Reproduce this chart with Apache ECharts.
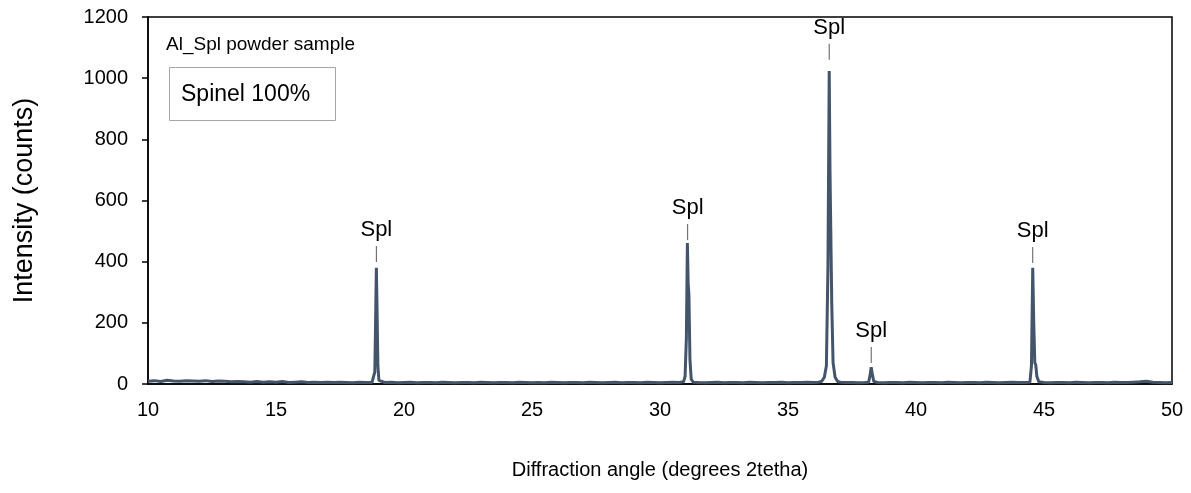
<!DOCTYPE html>
<html>
<head>
<meta charset="utf-8">
<script src="https://cdn.jsdelivr.net/npm/echarts@6/dist/echarts.min.js"></script>
<style>html,body{margin:0;padding:0;background:#fff;}#c{width:1191px;height:493px;}</style>
</head>
<body>
<div id="c"></div>
<script>
// XRD scan: [2theta, counts]
const scan = [
[10.00,9],[10.25,11],[10.50,8],[10.75,12],[11.00,10],[11.25,9],[11.50,11],[11.75,10],[12.00,9],[12.25,11],[12.50,8],[12.75,10],
[13.00,9],[13.25,7],[13.50,8],[13.75,7],[14.00,6],[14.25,8],[14.50,6],[14.75,7],[15.00,6],[15.25,8],[15.50,5],[15.75,6],
[16.00,7],[16.25,5],[16.50,6],[16.75,5],[17.00,6],[17.25,5],[17.50,6],[17.75,5],[18.00,4],[18.25,6],[18.50,5],[18.75,5],
[18.82,8],[18.86,40],[18.89,200],[18.92,380],[18.95,230],[18.98,60],[19.02,12],[19.08,6],
[19.25,5],[19.50,6],[19.75,4],[20.00,5],[20.25,6],[20.50,4],[20.75,5],[21.00,5],[21.25,4],[21.50,6],[21.75,5],[22.00,4],
[22.25,5],[22.50,5],[22.75,4],[23.00,6],[23.25,5],[23.50,4],[23.75,5],[24.00,5],[24.25,4],[24.50,6],[24.75,5],[25.00,4],
[25.25,5],[25.50,4],[25.75,6],[26.00,5],[26.25,4],[26.50,5],[26.75,5],[27.00,4],[27.25,6],[27.50,5],[27.75,4],[28.00,5],
[28.25,6],[28.50,4],[28.75,5],[29.00,5],[29.25,4],[29.50,6],[29.75,5],[30.00,4],[30.25,5],[30.50,6],[30.75,5],
[30.92,7],[30.98,25],[31.03,150],[31.07,461],[31.10,330],[31.13,290],[31.17,80],[31.22,15],[31.30,6],
[31.50,5],[31.75,4],[32.00,5],[32.25,6],[32.50,4],[32.75,5],[33.00,5],[33.25,4],[33.50,6],[33.75,5],[34.00,4],[34.25,5],
[34.50,5],[34.75,6],[35.00,4],[35.25,5],[35.50,5],[35.75,6],[36.00,5],[36.20,6],
[36.32,9],[36.42,22],[36.50,60],[36.56,380],[36.61,1023],[36.64,700],[36.67,705],[36.71,260],[36.76,70],[36.84,22],[36.94,8],
[37.05,6],[37.25,5],[37.50,5],[37.75,4],[38.00,5],
[38.15,6],[38.21,30],[38.25,55],[38.29,35],[38.35,8],
[38.50,5],[38.75,4],[39.00,5],[39.25,5],[39.50,4],[39.75,6],[40.00,5],[40.25,4],[40.50,5],[40.75,5],[41.00,4],[41.25,6],
[41.50,5],[41.75,4],[42.00,5],[42.25,5],[42.50,4],[42.75,6],[43.00,5],[43.25,4],[43.50,5],[43.75,6],[44.00,5],[44.25,5],
[44.45,6],[44.51,60],[44.56,380],[44.60,200],[44.64,70],[44.68,62],[44.72,25],[44.80,7],
[45.00,5],[45.25,4],[45.50,5],[45.75,5],[46.00,4],[46.25,6],[46.50,5],[46.75,4],[47.00,5],[47.25,5],[47.50,4],[47.75,6],
[48.00,5],[48.25,5],[48.50,6],[48.75,7],[49.00,9],[49.25,6],[49.50,5],[49.75,4],[50.00,5]
];
// Phase annotations
const peakAngles = [18.92, 31.08, 36.61, 38.25, 44.56];
const markerCounts = [425, 497, 1086, 95, 422];
const peakLabels = ['Spl', 'Spl', 'Spl', 'Spl', 'Spl'];
const xTicks = {min: 10, max: 50, interval: 5};
const yTicks = {min: 0, max: 1200, interval: 200};

const font = 'Liberation Sans, Arial, sans-serif';
const chart = echarts.init(document.getElementById('c'));
chart.setOption({
  animation: false,
  textStyle: {fontFamily: font},
  grid: {left: 148, right: 19, top: 17, bottom: 109, show: true, borderColor: '#000', borderWidth: 1.5, containLabel: false},
  xAxis: {
    type: 'value', min: xTicks.min, max: xTicks.max, interval: xTicks.interval,
    name: 'Diffraction angle (degrees 2tetha)', nameLocation: 'middle', nameGap: 76,
    nameTextStyle: {fontSize: 20, color: '#000', fontFamily: font},
    axisLine: {show: true, lineStyle: {color: '#000', width: 1.5}},
    axisTick: {show: false},
    splitLine: {show: false},
    axisLabel: {fontSize: 20, color: '#000', margin: 16, fontFamily: font}
  },
  yAxis: {
    type: 'value', min: yTicks.min, max: yTicks.max, interval: yTicks.interval,
    name: 'Intensity (counts)', nameLocation: 'middle', nameGap: 110,
    nameTextStyle: {fontSize: 27, color: '#000', fontFamily: font},
    axisLine: {show: true, lineStyle: {color: '#000', width: 1.5}},
    axisTick: {show: true, inside: false, length: 6, lineStyle: {color: '#000', width: 1.5}},
    splitLine: {show: false},
    axisLabel: {fontSize: 20, color: '#000', margin: 20, fontFamily: font, formatter: v => String(v)}
  },
  graphic: [
    {type: 'text', left: 166, top: 35, style: {text: 'Al_Spl powder sample', fontSize: 19, fill: '#000', fontFamily: font}},
    {type: 'rect', shape: {x: 169.5, y: 67.5, width: 166, height: 53}, style: {fill: '#fff', stroke: '#a6a6a6', lineWidth: 1}},
    {type: 'text', left: 181, top: 83, style: {text: 'Spinel 100%', fontSize: 23, fill: '#000', fontFamily: font}}
  ],
  series: [
    {
      type: 'line', data: scan, showSymbol: false, symbol: 'none',
      lineStyle: {color: '#44546A', width: 3}, z: 2
    },
    {
      type: 'scatter',
      data: peakAngles.map((a, i) => ({value: [a, markerCounts[i]], label: {formatter: peakLabels[i], color: '#000'}})),
      symbol: 'rect', symbolSize: [1, 16],
      itemStyle: {color: '#595959', opacity: 1},
      label: {show: true, position: 'top', distance: 5, fontSize: 22, color: '#000', opacity: 1, textBorderWidth: 0, fontFamily: font},
      emphasis: {disabled: true},
      z: 3
    }
  ]
});
</script>
</body>
</html>
